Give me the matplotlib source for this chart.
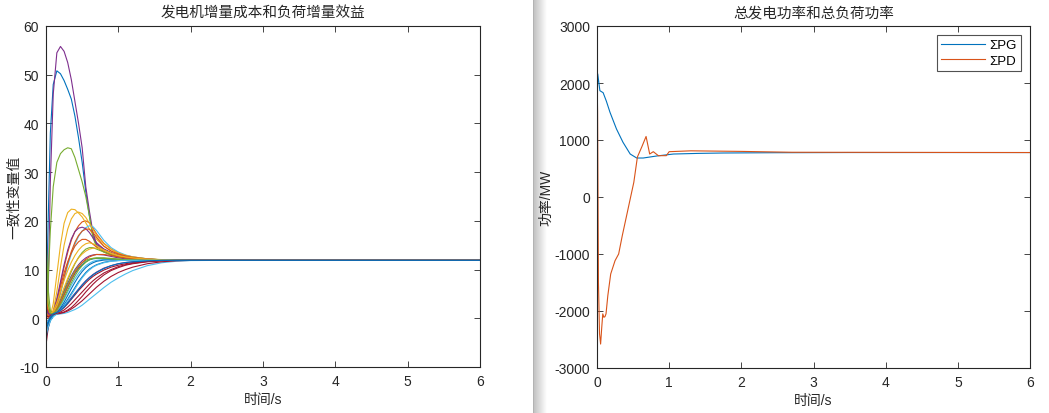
import numpy as np
import matplotlib
matplotlib.use('Agg')
import matplotlib.pyplot as plt

plt.rcParams['font.family'] = ['Liberation Sans', 'Noto Sans CJK SC', 'DejaVu Sans']
plt.rcParams['axes.unicode_minus'] = False

# matlab default line colours
matlab_colors = ['#0072BD', '#D95319', '#EDB120', '#7E2F8E', '#77AC30', '#4DBEEE', '#A2142F']
ink = '#262626'

# ---- left: incremental cost / benefit of every agent ----
t_lam = [0, 0.03, 0.06, 0.1, 0.15, 0.2, 0.25, 0.3, 0.35, 0.4, 0.45, 0.5, 0.55, 0.6,
         0.65, 0.7, 0.8, 0.9, 1.0, 1.1, 1.2, 1.4, 1.6, 1.8, 2.0, 2.5, 6.0]

lam = [
    # 0 blue, big peak
    [0, 20, 38, 48, 50.8, 50.2, 48.8, 47, 45, 41.5, 37, 32, 26, 21, 17, 15, 14, 13.3, 12.9, 12.6, 12.4, 12.1, 12.0, 11.95, 11.9, 11.9, 11.9],
    # 1 orange
    [2, 0, 0.3, 1, 3.5, 7, 10.5, 13.5, 16, 17.8, 19, 19.8, 20, 19.6, 18.5, 17.3, 15.4, 14.2, 13.4, 12.9, 12.6, 12.2, 12.0, 11.95, 11.9, 11.9, 11.9],
    # 2 yellow
    [3, 0.5, 0.5, 3, 9, 15, 19.5, 21.7, 22.4, 22.3, 21.6, 20.8, 19.6, 18.3, 17.2, 16.2, 14.8, 13.8, 13.2, 12.8, 12.5, 12.2, 12.0, 11.95, 11.9, 11.9, 11.9],
    # 3 purple, biggest peak
    [0, 5, 28, 46, 54.5, 55.8, 54.8, 52.5, 49, 44.5, 40, 35, 27, 22, 17.5, 15.2, 14.2, 13.5, 13, 12.7, 12.5, 12.15, 12.0, 11.95, 11.9, 11.9, 11.9],
    # 4 green, mid peak
    [1, 8, 18, 27, 32, 33.8, 34.6, 35, 34.8, 33, 30.5, 28, 25, 21, 16.5, 14.6, 13.6, 13.0, 12.6, 12.4, 12.2, 12.05, 11.95, 11.9, 11.9, 11.9, 11.9],
    # 5 cyan
    [-2, -1, 0, 0.8, 2.5, 5, 8, 10.8, 13.2, 15.2, 16.8, 17.9, 18.6, 19, 18.8, 18, 16, 14.5, 13.6, 13, 12.6, 12.2, 12.0, 11.95, 11.9, 11.9, 11.9],
    # 6 dark red, slow
    [-5.5, -2, 0, 0.8, 1, 1.1, 1.3, 1.7, 2.2, 2.9, 3.7, 4.5, 5.4, 6.2, 7, 7.7, 8.9, 9.8, 10.4, 10.9, 11.2, 11.6, 11.8, 11.85, 11.9, 11.9, 11.9],
    # 7 blue, fast
    [-1, -0.5, 0.2, 0.8, 1.8, 3.2, 4.8, 6.4, 7.9, 9.2, 10.2, 11, 11.6, 12, 12.2, 12.3, 12.3, 12.2, 12.1, 12.05, 12.0, 11.95, 11.9, 11.9, 11.9, 11.9, 11.9],
    # 8 orange
    [3, 1, 0.6, 1.5, 3.8, 6.5, 9.3, 11.6, 13.4, 14.8, 15.7, 16.2, 16.2, 15.8, 15.2, 14.6, 13.7, 13.1, 12.7, 12.45, 12.3, 12.1, 12.0, 11.95, 11.9, 11.9, 11.9],
    # 9 yellow
    [6, 1.5, 0.5, 1.5, 5.5, 10.5, 15, 18.3, 20.4, 21.5, 21.8, 21.5, 20.7, 19.5, 18.2, 17, 15.3, 14.2, 13.4, 12.9, 12.6, 12.2, 12.05, 11.95, 11.9, 11.9, 11.9],
    # 10 purple
    [4, 1, 0.5, 1.2, 4, 7.5, 11, 14, 16.3, 17.8, 18.5, 18.7, 18.4, 17.6, 16.5, 15.5, 14.2, 13.4, 12.9, 12.6, 12.4, 12.1, 12.0, 11.95, 11.9, 11.9, 11.9],
    # 11 green
    [17.5, 6, 1.5, 1, 2, 3.8, 5.8, 7.8, 9.6, 11.2, 12.5, 13.5, 14.2, 14.5, 14.5, 14.2, 13.6, 13, 12.6, 12.4, 12.2, 12.05, 11.95, 11.9, 11.9, 11.9, 11.9],
    # 12 cyan, fast
    [-3, -1.5, -0.3, 0.5, 1.3, 2.5, 3.9, 5.4, 6.8, 8.1, 9.2, 10.1, 10.8, 11.3, 11.7, 11.9, 12.1, 12.1, 12.05, 12.0, 11.95, 11.9, 11.9, 11.9, 11.9, 11.9, 11.9],
    # 13 dark red, slow
    [3.5, 1.5, 1, 1, 1.2, 1.6, 2.2, 3, 3.9, 4.8, 5.7, 6.5, 7.3, 8, 8.6, 9.1, 9.9, 10.5, 10.9, 11.2, 11.45, 11.7, 11.85, 11.9, 11.9, 11.9, 11.9],
    # 14 blue, fast
    [-4, -2, -0.5, 0.4, 1.1, 2.1, 3.3, 4.7, 6.1, 7.4, 8.6, 9.6, 10.4, 11, 11.4, 11.7, 11.95, 12.0, 12.0, 11.95, 11.92, 11.9, 11.9, 11.9, 11.9, 11.9, 11.9],
    # 15 orange
    [1, 0.5, 0.5, 1, 2.8, 5.5, 8.5, 11.3, 13.7, 15.6, 17, 17.9, 18.3, 18.3, 17.6, 16.6, 14.8, 13.8, 13.2, 12.8, 12.5, 12.15, 12.0, 11.95, 11.9, 11.9, 11.9],
    # 16 yellow
    [8, 2, 0.8, 1.5, 3.2, 5.5, 7.8, 9.8, 11.5, 12.9, 14, 14.8, 15.3, 15.5, 15.3, 14.9, 14, 13.3, 12.8, 12.5, 12.3, 12.1, 12.0, 11.95, 11.9, 11.9, 11.9],
    # 17 purple
    [0, -1, 0, 1, 2.2, 3.8, 5.5, 7.2, 8.7, 10, 11, 11.8, 12.4, 12.8, 13, 13.1, 13, 12.7, 12.4, 12.2, 12.1, 12.0, 11.95, 11.9, 11.9, 11.9, 11.9],
    # 18 green, fast
    [6, 2, 0.8, 1.0, 2, 3.5, 5.2, 6.9, 8.4, 9.7, 10.7, 11.4, 11.9, 12.2, 12.3, 12.35, 12.3, 12.2, 12.1, 12.05, 12.0, 11.95, 11.9, 11.9, 11.9, 11.9, 11.9],
    # 19 cyan, slowest
    [-1, -0.5, 0.3, 0.6, 0.8, 0.9, 1.0, 1.2, 1.5, 1.8, 2.2, 2.7, 3.3, 3.9, 4.5, 5.1, 6.3, 7.4, 8.3, 9.1, 9.8, 10.8, 11.4, 11.7, 11.85, 11.9, 11.9],
    # 20 dark red, slow
    [-4, -1.5, 0.2, 0.8, 0.9, 1.0, 1.2, 1.5, 1.9, 2.4, 3, 3.6, 4.3, 5, 5.7, 6.4, 7.6, 8.6, 9.4, 10, 10.5, 11.2, 11.6, 11.8, 11.88, 11.9, 11.9],
    # 21 blue
    [-2.5, -1, 0, 0.6, 1.2, 1.9, 2.8, 3.9, 5.1, 6.3, 7.5, 8.5, 9.4, 10.1, 10.6, 11, 11.5, 11.75, 11.85, 11.9, 11.9, 11.9, 11.9, 11.9, 11.9, 11.9, 11.9],
    # 22 orange
    [5, 1.5, 0.5, 0.8, 1.8, 3.2, 4.8, 6.5, 8, 9.4, 10.5, 11.4, 12.1, 12.6, 12.9, 13.1, 13.1, 12.9, 12.6, 12.4, 12.25, 12.05, 11.95, 11.9, 11.9, 11.9, 11.9],
    # 23 yellow
    [10, 2.5, 1, 1.2, 2.5, 4.3, 6.3, 8.2, 9.9, 11.3, 12.4, 13.2, 13.8, 14.2, 14.4, 14.4, 14, 13.4, 12.9, 12.6, 12.4, 12.1, 12.0, 11.95, 11.9, 11.9, 11.9],
    # 24 purple, slow
    [2, 1, 0.8, 1, 1.3, 1.8, 2.5, 3.3, 4.2, 5.1, 6, 6.9, 7.7, 8.4, 9, 9.5, 10.3, 10.8, 11.2, 11.45, 11.6, 11.8, 11.88, 11.9, 11.9, 11.9, 11.9],
    # 25 green
    [12, 3, 1, 0.9, 1.6, 2.8, 4.2, 5.8, 7.3, 8.7, 9.9, 10.8, 11.5, 12, 12.3, 12.4, 12.4, 12.3, 12.15, 12.05, 12.0, 11.95, 11.9, 11.9, 11.9, 11.9, 11.9],
    # 26 cyan
    [-3.5, -1.8, -0.5, 0.3, 0.9, 1.6, 2.5, 3.6, 4.8, 6, 7.2, 8.3, 9.2, 9.9, 10.5, 10.9, 11.4, 11.7, 11.85, 11.9, 11.9, 11.9, 11.9, 11.9, 11.9, 11.9, 11.9],
    # 27 dark red, slow
    [0.5, 0.3, 0.5, 0.8, 1.0, 1.3, 1.7, 2.3, 3, 3.8, 4.6, 5.4, 6.2, 7, 7.7, 8.3, 9.3, 10, 10.6, 11, 11.3, 11.65, 11.82, 11.88, 11.9, 11.9, 11.9],
    # 28 blue, slow
    [-1.5, -0.8, 0.3, 0.9, 1.2, 1.6, 2.3, 3.1, 4, 5, 5.9, 6.8, 7.6, 8.3, 8.9, 9.4, 10.2, 10.8, 11.2, 11.45, 11.6, 11.8, 11.88, 11.9, 11.9, 11.9, 11.9],
]

# ---- right: total generation / total load ----
t_pg = [0, 0.01, 0.04, 0.085, 0.13, 0.18, 0.27, 0.36, 0.46, 0.55, 0.64, 0.83,
        1.06, 1.4, 1.75, 2.48, 3.5, 6.0]
pg = [1600, 2160, 1865, 1830, 1680, 1486, 1193, 960, 754, 684, 684, 720,
      754, 765, 772, 777, 780, 780]

t_pd = [0, 0.008, 0.02, 0.035, 0.05, 0.065, 0.08, 0.095, 0.11, 0.125, 0.15, 0.19,
        0.25, 0.3, 0.35, 0.42, 0.46, 0.51, 0.56, 0.62, 0.68, 0.73, 0.78, 0.85,
        0.96, 1.0, 1.3, 2.0, 2.7, 6.0]
pd_ = [2150, 1500, -1500, -2400, -2580, -2300, -2050, -2110, -2100, -2050, -1730, -1350,
       -1117, -1000, -680, -270, -35, 257, 702, 877, 1062, 754, 795, 725,
       725, 795, 810, 800, 785, 780]

fig = plt.figure(figsize=(10.49, 4.14), dpi=100, facecolor='white')

# window edge shadow between the two plots, kept underneath everything
shade = fig.add_axes([533/1049, 0, 14/1049, 1], zorder=-5)
grad = np.linspace(0.8, 1.0, 64) ** 1.3
grad[0] = 0.5
shade.imshow(grad[np.newaxis, :], cmap='gray', vmin=0, vmax=1, aspect='auto')
shade.axis('off')

ax1 = fig.add_axes([46/1049, 1-368/414, 434/1049, 341/414])
ax2 = fig.add_axes([597/1049, 1-369/414, 433/1049, 342/414])

for i, row in enumerate(lam):
    ax1.plot(t_lam, row, color=matlab_colors[i % 7], lw=0.8)

ax2.plot(t_pg, pg, color=matlab_colors[0], lw=0.8, label='ΣPG')
ax2.plot(t_pd, pd_, color=matlab_colors[1], lw=0.8, label='ΣPD')

ax1.set_xlim(0, 6)
ax1.set_ylim(-10, 60)
ax1.set_yticks(range(-10, 61, 10))
ax2.set_xlim(0, 6)
ax2.set_ylim(-3000, 3000)
ax2.set_yticks(range(-3000, 3001, 1000))

for ax in (ax1, ax2):
    ax.set_xticks(range(0, 7))
    ax.tick_params(direction='in', length=4, width=0.6, top=True, right=True,
                   labelsize=10, colors=ink, pad=5)
    for s in ax.spines.values():
        s.set_color(ink)
        s.set_linewidth(0.8)
    ax.set_xlabel('时间/s', fontsize=10, color=ink, labelpad=3)

ax1.set_title('发电机增量成本和负荷增量效益', fontsize=10.5, color=ink, pad=7)
ax1.set_ylabel('一致性变量值', fontsize=10, color=ink, labelpad=-1)
ax2.set_title('总发电功率和总负荷功率', fontsize=10.5, color=ink, pad=7)
ax2.set_ylabel('功率/MW', fontsize=10, color=ink, labelpad=1)

leg = ax2.legend(loc='upper right', fontsize=9.5, handlelength=3.4, frameon=True,
                 fancybox=False, borderaxespad=0.7, labelspacing=0.25,
                 borderpad=0.3, handletextpad=0.3)
leg.get_frame().set_edgecolor(ink)
leg.get_frame().set_linewidth(0.8)

fig.savefig('out.png', dpi=100, facecolor='white')
